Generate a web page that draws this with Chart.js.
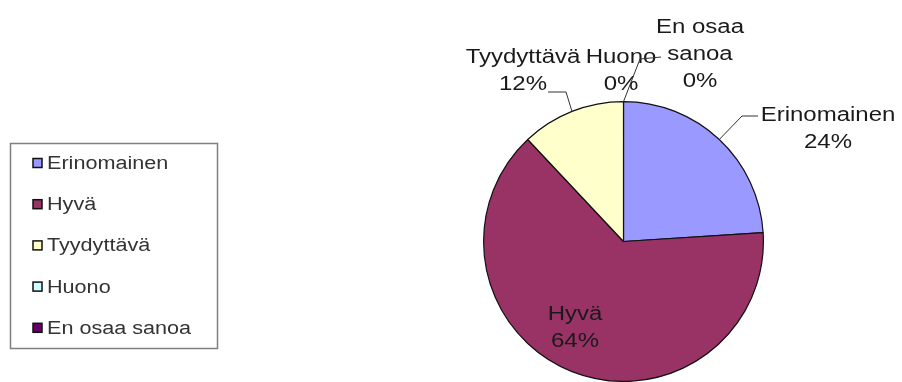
<!DOCTYPE html>
<html>
<head>
<meta charset="utf-8">
<script src="https://cdn.jsdelivr.net/npm/chart.js@4/dist/chart.umd.min.js"></script>
<style>
  html, body { margin: 0; padding: 0; background: #fff; }
  #wrap { width: 902px; height: 382px; position: relative; }
</style>
</head>
<body>
<div id="wrap"><canvas id="c" width="902" height="382"></canvas></div>
<script>
// Survey answers and their shares (%)
const categories = ['Erinomainen', 'Hyvä', 'Tyydyttävä', 'Huono', 'En osaa sanoa'];
const shares = [24, 64, 12, 0, 0];
const sliceColors = ['#9999FF', '#993366', '#FFFFCC', '#CCFFFF', '#660066'];

const FONT = '"Liberation Sans", Arial, sans-serif';

// Text drawn slightly widened horizontally
function wideText(ctx, text, x, y, align, sx) {
  ctx.save();
  ctx.translate(x, y);
  ctx.scale(sx, 1);
  ctx.textAlign = align;
  ctx.fillText(text, 0, 0);
  ctx.restore();
}

// Placement of each slice label: text centre, first baseline and leader bend points
const labelLayout = [
  { x: 828, y: 121, leader: [[742, 116], [758, 116]] },
  { x: 575, y: 320, leader: null },
  { x: 523, y: 63, leader: [[566, 92], [548, 92]] },
  { x: 621, y: 63, leader: null },
  { x: 700, y: 33, lines: ['En osaa', 'sanoa'], leader: [[640, 59], [661, 57]] }
];

const sliceLabels = {
  id: 'sliceLabels',
  afterDatasetsDraw(chart) {
    const ctx = chart.ctx;
    const meta = chart.getDatasetMeta(0);
    ctx.save();
    ctx.font = '20px ' + FONT;
    ctx.fillStyle = '#1a1a1a';
    ctx.textBaseline = 'alphabetic';
    meta.data.forEach((arc, i) => {
      const L = labelLayout[i];
      const p = arc.getProps(['x', 'y', 'startAngle', 'endAngle', 'outerRadius'], true);
      const mid = (p.startAngle + p.endAngle) / 2;
      if (L.leader) {
        ctx.beginPath();
        ctx.strokeStyle = '#333';
        ctx.lineWidth = 1;
        ctx.moveTo(p.x + Math.cos(mid) * p.outerRadius, p.y + Math.sin(mid) * p.outerRadius);
        L.leader.forEach(pt => ctx.lineTo(pt[0], pt[1]));
        ctx.stroke();
      }
      const lines = (L.lines || [categories[i]]).concat([shares[i] + '%']);
      lines.forEach((t, k) => wideText(ctx, t, L.x, L.y + k * 27, 'center', 1.2));
    });
    ctx.restore();
  }
};

// Boxed legend on the left
const boxLegend = {
  id: 'boxLegend',
  afterDraw(chart) {
    const ctx = chart.ctx;
    ctx.save();
    ctx.strokeStyle = '#7f7f7f';
    ctx.lineWidth = 1.5;
    ctx.strokeRect(10.5, 143.5, 207, 205);
    ctx.font = '18px ' + FONT;
    ctx.textBaseline = 'middle';
    categories.forEach((name, i) => {
      const cy = 163 + i * 41.2;
      ctx.fillStyle = sliceColors[i];
      ctx.fillRect(33, cy - 4.5, 9, 9);
      ctx.strokeStyle = '#111';
      ctx.lineWidth = 1.5;
      ctx.strokeRect(33, cy - 4.5, 9, 9);
      ctx.fillStyle = '#333';
      wideText(ctx, name, 47, cy + 1, 'left', 1.2);
    });
    ctx.restore();
  }
};

new Chart(document.getElementById('c'), {
  type: 'pie',
  data: {
    labels: categories,
    datasets: [{
      data: shares,
      backgroundColor: sliceColors,
      borderColor: '#111',
      borderWidth: 1.2
    }]
  },
  options: {
    responsive: false,
    animation: false,
    layout: { padding: { left: 483, right: 138, top: 101, bottom: 0 } },
    plugins: {
      legend: { display: false },
      tooltip: { enabled: false }
    }
  },
  plugins: [sliceLabels, boxLegend]
});
</script>
</body>
</html>
